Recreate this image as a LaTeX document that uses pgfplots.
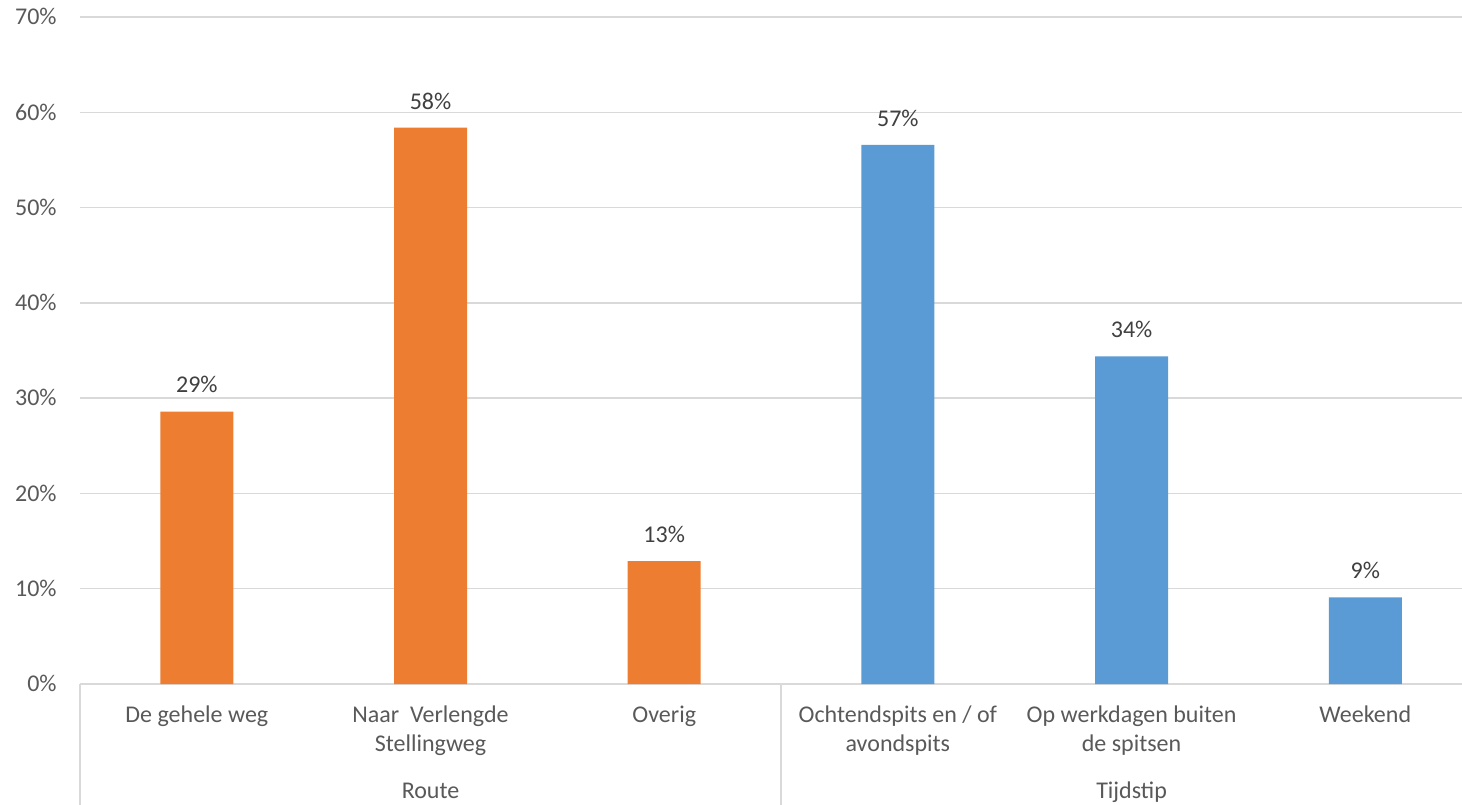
\documentclass[border=0pt]{standalone}
\usepackage{fontspec}
\setmainfont{Carlito}
\usepackage{pgfplots}
\pgfplotsset{compat=1.18}

\definecolor{barorange}{HTML}{ED7D31}
\definecolor{barblue}{HTML}{5B9BD5}
\definecolor{gridgray}{HTML}{D9D9D9}
\definecolor{labelgray}{HTML}{595959}
\definecolor{valuegray}{HTML}{404040}

\newcommand{\chartfont}{\fontsize{12}{14.7}\selectfont}

\begin{document}
\begin{tikzpicture}
\begin{axis}[
  at={(0,0)}, anchor=south west,
  scale only axis,
  width=691pt, height=333.4pt,
  xmin=-0.5, xmax=5.414,
  ymin=0, ymax=70,
  enlargelimits=false,
  clip=false,
  ybar, bar width=36.5pt,
  axis x line*=bottom, axis y line*=left,
  x axis line style={draw=gridgray, line width=0.75pt, -},
  y axis line style={draw=none},
  ymajorgrids,
  grid style={draw=gridgray, line width=0.75pt},
  major tick length=0pt,
  ytick={0,10,20,30,40,50,60,70},
  yticklabels={0\%,10\%,20\%,30\%,40\%,50\%,60\%,70\%},
  yticklabel style={font=\chartfont, text=labelgray, inner sep=0pt,
    anchor=base east, xshift=-11.5pt, yshift=-3.8pt},
  xtick={0,1,2,3,4,5},
  % every label has two lines, so that the last baseline sits at the same depth
  xticklabels={{De gehele weg\\\mbox{}}, {Naar\ \ Verlengde\\Stellingweg},
    {Overig\\\mbox{}}, {Ochtendspits en / of\\avondspits},
    {Op werkdagen buiten\\de spitsen}, {Weekend\\\mbox{}}},
  xticklabel style={font=\chartfont, text=labelgray, inner sep=0pt,
    align=center, anchor=base, yshift=-33.9pt},
  /pgf/number format/assume math mode=true,
  nodes near coords={\pgfmathprintnumber[fixed,precision=0]{\pgfplotspointmeta}\%},
  every node near coord/.append style={font=\chartfont, text=valuegray,
    inner sep=0pt, anchor=base, yshift=9.3pt},
]
% Route
\addplot[fill=barorange, draw=none, bar shift=0pt]
  coordinates {(0,28.6) (1,58.4) (2,12.9)};
% Tijdstip
\addplot[fill=barblue, draw=none, bar shift=0pt]
  coordinates {(3,56.6) (4,34.4) (5,9.1)};

% group separators of the category axis
\draw[gridgray, line width=0.75pt]
  (axis cs:-0.5,0) -- ([yshift=-62pt]axis cs:-0.5,0);
\draw[gridgray, line width=0.75pt]
  (axis cs:2.5,0) -- ([yshift=-62pt]axis cs:2.5,0);
% group names
\node[font=\chartfont, text=labelgray, inner sep=0pt, anchor=base]
  at ([yshift=-57.2pt]axis cs:1,0) {Route};
\node[font=\chartfont, text=labelgray, inner sep=0pt, anchor=base]
  at ([yshift=-57.2pt]axis cs:4,0) {Tijdstip};
\end{axis}
\pgfresetboundingbox
\path (-40pt,-60pt) rectangle (691pt,342pt);
\end{tikzpicture}
\end{document}
